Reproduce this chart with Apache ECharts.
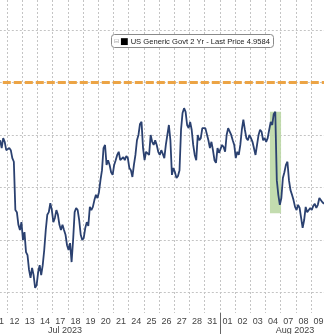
<!DOCTYPE html>
<html>
<head>
<meta charset="utf-8">
<script src="https://cdn.jsdelivr.net/npm/echarts@6/dist/echarts.min.js"></script>
<style>html,body{margin:0;padding:0;background:#fff}#c{width:324px;height:334px}</style>
</head>
<body>
<div id="c"></div>
<script>
// Trading days shown on the axis (Jul 2023 -> Aug 2023)
const dayLabels = ['11','12','13','14','17','18','19','20','21','24','25','26','27','28','31','01','02','03','04','07','08','09'];
const monthLabels = ['Jul 2023','Aug 2023'];
const monthLabelPos = [4.82, 19.95];      // in trading-day units
const monthBreak = [15];                  // boundary before "01"

// Intraday samples: time in trading-day units (0 = start of "11"), yield in %
const times = [
 0.55,0.65,0.75,0.85,0.95,
 1.05,1.15,1.25,1.35,1.45,1.55,1.65,1.75,1.85,1.95,
 2.05,2.15,2.25,2.35,2.45,2.55,2.65,2.75,2.85,2.95,
 3.05,3.15,3.25,3.35,3.45,3.55,3.65,3.75,3.85,3.95,
 4.05,4.15,4.25,4.35,4.45,4.55,4.65,4.75,4.85,4.95,
 5.05,5.15,5.25,5.35,5.45,5.55,5.65,5.75,5.85,5.95,
 6.05,6.15,6.25,6.35,6.45,6.55,6.65,6.75,6.85,6.95,
 7.05,7.15,7.25,7.35,7.45,7.55,7.65,7.75,7.85,7.95,
 8.05,8.15,8.25,8.35,8.45,8.55,8.65,8.75,8.85,8.95,
 9.05,9.15,9.25,9.35,9.45,9.55,9.65,9.75,9.85,9.95,
 10.05,10.15,10.25,10.35,10.45,10.55,10.65,10.75,10.85,10.95,
 11.05,11.15,11.25,11.35,11.45,11.55,11.65,11.75,11.85,11.95,
 12.05,12.15,12.25,12.35,12.45,12.55,12.65,12.75,12.85,12.95,
 13.05,13.15,13.25,13.35,13.45,13.55,13.65,13.75,13.85,13.95,
 14.05,14.15,14.25,14.35,14.45,14.55,14.65,14.75,14.85,14.95,
 15.05,15.15,15.25,15.35,15.45,15.55,15.65,15.75,15.85,15.95,
 16.05,16.15,16.25,16.35,16.45,16.55,16.65,16.75,16.85,16.95,
 17.05,17.15,17.25,17.35,17.45,17.55,17.65,17.75,17.85,17.95,
 18.05,18.15,18.25,18.35,18.45,18.55,18.65,18.75,18.85,18.95,
 19.05,19.15,19.25,19.35,19.45,19.55,19.65,19.75,19.85,19.95,
 20.05,20.15,20.25,20.35,20.45,20.55,20.65,20.75,20.85,20.95,
 21.05,21.15,21.25,21.35,21.45,21.55,21.65,21.75,21.85
];
const yields = [
 4.890,4.875,4.894,4.887,4.871,4.868,4.875,4.871,4.856,4.849,
 4.757,4.753,4.729,4.719,4.734,4.700,4.715,4.677,4.671,4.643,
 4.628,4.647,4.633,4.609,4.614,4.639,4.652,4.633,4.652,4.681,
 4.719,4.748,4.753,4.770,4.757,4.734,4.742,4.757,4.748,4.729,
 4.719,4.729,4.719,4.710,4.690,4.681,4.694,4.658,4.700,4.753,
 4.761,4.757,4.738,4.710,4.700,4.704,4.723,4.734,4.727,4.763,
 4.757,4.763,4.776,4.786,4.780,4.791,4.814,4.833,4.875,4.881,
 4.843,4.852,4.843,4.829,4.824,4.843,4.852,4.862,4.868,4.852,
 4.849,4.858,4.852,4.860,4.856,4.837,4.833,4.820,4.843,4.862,
 4.890,4.900,4.921,4.925,4.875,4.852,4.868,4.871,4.862,4.900,
 4.887,4.881,4.890,4.881,4.868,4.862,4.871,4.864,4.856,4.881,
 4.900,4.919,4.890,4.824,4.837,4.829,4.818,4.822,4.833,4.910,
 4.942,4.951,4.944,4.919,4.913,4.925,4.910,4.881,4.862,4.852,
 4.900,4.890,4.894,4.913,4.910,4.913,4.913,4.890,4.875,4.887,
 4.871,4.852,4.847,4.875,4.866,4.868,4.881,4.877,4.868,4.900,
 4.913,4.913,4.900,4.890,4.881,4.856,4.868,4.862,4.881,4.910,
 4.929,4.910,4.894,4.890,4.900,4.894,4.887,4.890,4.862,4.881,
 4.900,4.910,4.906,4.890,4.894,4.887,4.894,4.910,4.925,4.919,
 4.940,4.944,4.814,4.786,4.767,4.780,4.818,4.829,4.843,4.849,
 4.814,4.795,4.786,4.776,4.763,4.757,4.767,4.761,4.742,4.723,
 4.738,4.763,4.753,4.751,4.761,4.757,4.765,4.769,4.761,4.767,
 4.780,4.782,4.772,4.769
];
const seriesName = 'US Generic Govt 2 Yr - Last Price 4.9584';
const referenceLevel = 5.0;
const highlightX = [18.3, 19.03];      // Aug 04 payrolls window
const highlightY = [4.944, 4.751];
const yMin = 4.561, yMax = 5.157;

const font = "'Liberation Sans','Arial',sans-serif";
const chart = echarts.init(document.getElementById('c'), null, {renderer: 'canvas'});
chart.setOption({
  animation: false,
  backgroundColor: '#fff',
  title: {
    text: '{ic|⊟}{sq|■} ' + seriesName,
    left: 111, top: 34,
    padding: [3, 4, 2, 3],
    borderColor: '#8a8a8a', borderWidth: 1, borderRadius: 3,
    backgroundColor: '#fff',
    textStyle: {
      fontFamily: font, fontSize: 7.6, color: '#222', fontWeight: 'normal',
      rich: {
        ic: {fontFamily: 'DejaVu Sans', fontSize: 6, color: '#999', padding: [0, 1, 0, 0]},
        sq: {fontFamily: 'DejaVu Sans', fontSize: 9, color: '#000'}
      }
    }
  },
  grid: {left: -8.2, right: -2.2, top: 0, bottom: 21, containLabel: false, outerBoundsMode: 'none'},
  xAxis: [
    {
      type: 'category', data: dayLabels, boundaryGap: true,
      axisLine: {show: false},
      axisTick: {show: false},
      axisLabel: {interval: 0, fontFamily: font, fontSize: 9, color: '#444', margin: 4},
      splitLine: {show: true, interval: 0, lineStyle: {color: '#c4c4c4', type: [2, 2], width: 1}}
    },
    {
      type: 'value', min: 0, max: dayLabels.length, position: 'bottom',
      axisLine: {show: false}, splitLine: {show: false},
      axisLabel: {show: false},
      axisTick: {show: true, customValues: monthBreak, length: 21, lineStyle: {color: '#666', width: 1}}
    },
    {
      type: 'value', min: 0, max: dayLabels.length, position: 'bottom', offset: 9,
      axisLine: {show: false}, axisTick: {show: false}, splitLine: {show: false},
      axisLabel: {
        customValues: monthLabelPos, fontFamily: font, fontSize: 9, color: '#444', margin: 4,
        formatter: (v) => {
          let k = 0, best = Infinity;
          monthLabelPos.forEach((p, i) => { if (Math.abs(p - v) < best) { best = Math.abs(p - v); k = i; } });
          return monthLabels[k];
        }
      }
    }
  ],
  yAxis: {
    type: 'value', min: yMin, max: yMax, scale: true,
    axisLine: {show: false}, axisTick: {show: false}, axisLabel: {show: false},
    splitLine: {show: true, showMinLine: false, showMaxLine: false,
                lineStyle: {color: '#c4c4c4', type: [2, 2], width: 1}}
  },
  series: [{
    name: seriesName,
    type: 'line',
    xAxisIndex: 1,
    data: times.map((t, i) => [t, yields[i]]),
    showSymbol: false,
    lineStyle: {color: '#2b4170', width: 1.8},
    z: 3,
    markLine: {
      silent: true, symbol: 'none', label: {show: false},
      lineStyle: {color: '#eca445', width: 3, type: [8, 3]},
      data: [{yAxis: referenceLevel}]
    },
    markArea: {
      silent: true,
      itemStyle: {color: '#bcd8a6', opacity: 0.9},
      data: [[{xAxis: highlightX[0], yAxis: highlightY[0]}, {xAxis: highlightX[1], yAxis: highlightY[1]}]]
    }
  }]
});
</script>
</body>
</html>
